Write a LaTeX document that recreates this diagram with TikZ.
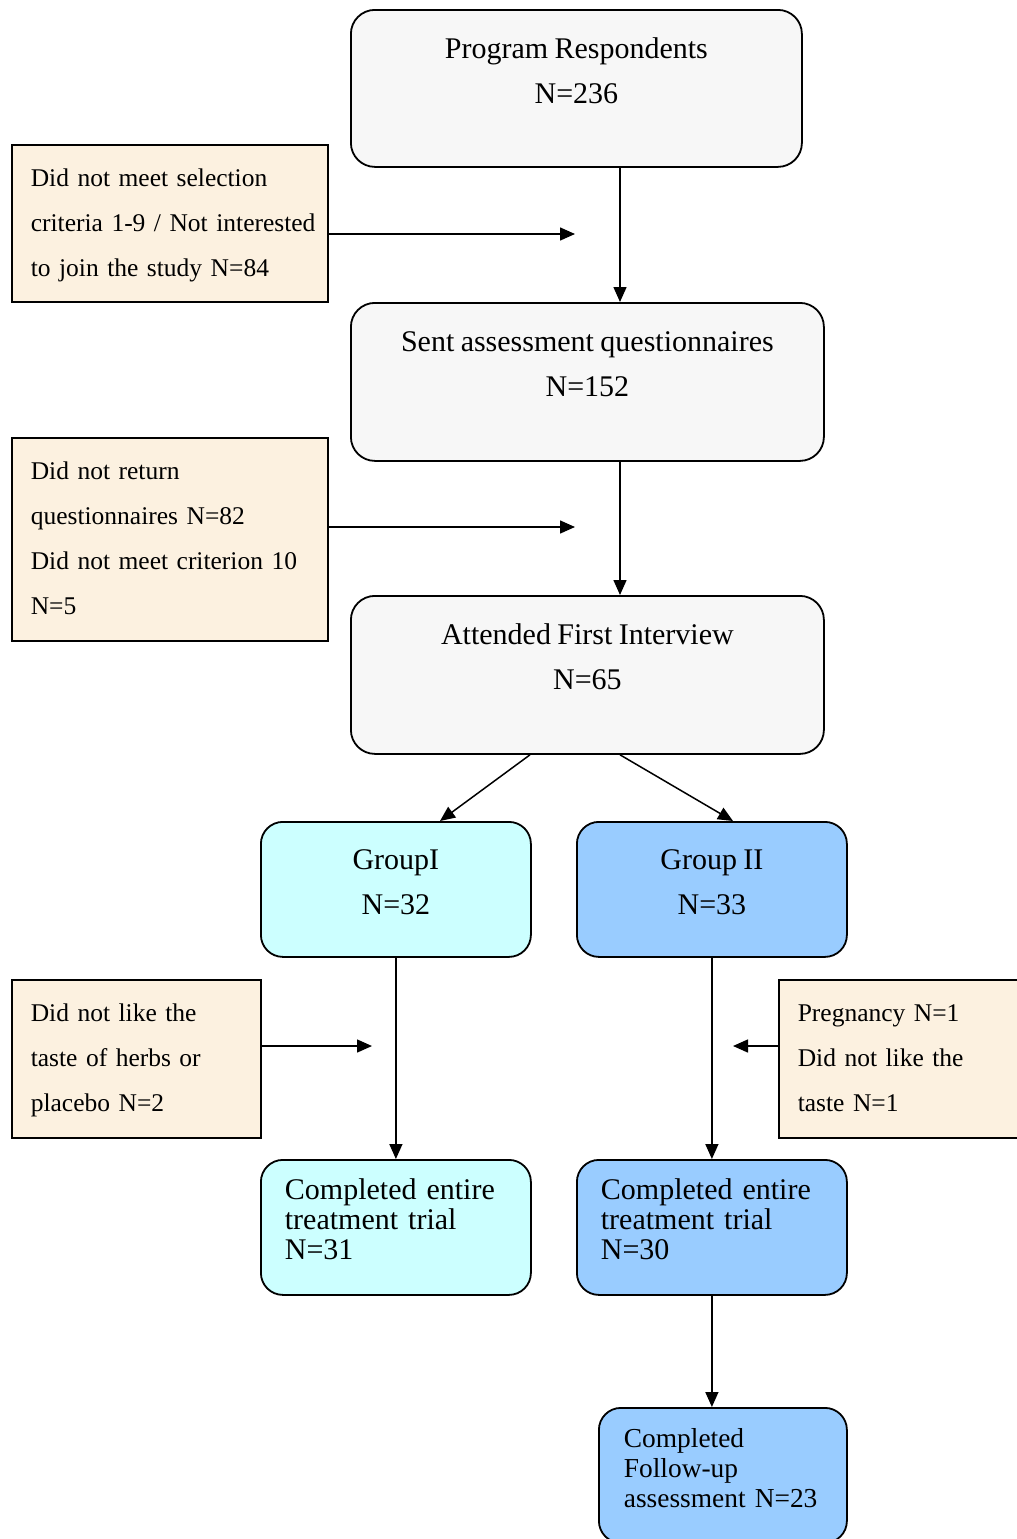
\documentclass[tikz,border=0pt]{standalone}
\usepackage{fontspec}
\setmainfont{Liberation Serif}[WordSpace=0.85]
\usetikzlibrary{arrows.meta}
\definecolor{stagegray}{HTML}{F7F7F7}
\definecolor{notebeige}{HTML}{FCF1E0}
\definecolor{groupcyan}{HTML}{CCFFFF}
\definecolor{groupblue}{HTML}{99CCFF}

\begin{document}
\begin{tikzpicture}[x=1pt,y=-1pt,
  every node/.style={anchor=north west, inner ysep=0pt},
  % centred two-line boxes: text height reaches the baseline of the last line
  stage/.style={draw, line width=1.8pt, rounded corners=24pt, fill=stagegray,
    inner xsep=0pt, align=center, font=\fontsize{30}{44.5}\selectfont,
    text height=93.5pt},
  grp/.style={draw, line width=1.8pt, rounded corners=22pt,
    inner xsep=0pt, align=center, font=\fontsize{30}{45}\selectfont,
    text height=93pt, minimum width=270pt, minimum height=135pt, text depth=42pt},
  done/.style={draw, line width=1.8pt, rounded corners=22pt,
    align=left, font=\fontsize{30}{30}\selectfont,
    text height=40pt, minimum height=135pt, text depth=95pt},
  note/.style={draw, line width=1.6pt, fill=notebeige, inner xsep=19pt,
    align=left, font=\fontsize{25.5}{45}\selectfont, text height=42pt},
  conn/.style={line width=1.5pt, -{Triangle[length=15pt,width=13pt]}}
]
\useasboundingbox (0,0) rectangle (1017,1539);
\fill[white] (0,0) rectangle (1017,1539);

% main stages
\node[stage, minimum width=451pt, minimum height=157pt, text depth=63.5pt]
  (resp) at (350,9) {Program Respondents\\N=236};
\node[stage, minimum width=473pt, minimum height=158pt, text depth=64.5pt]
  (sent) at (350,302) {Sent assessment questionnaires\\N=152};
\node[stage, minimum width=473pt, minimum height=158pt, text depth=64.5pt]
  (inter) at (350,595) {Attended First Interview\\N=65};

% groups
\node[grp, fill=groupcyan] (g1) at (260,821) {GroupI\\N=32};
\node[grp, fill=groupblue] (g2) at (576,821) {Group II\\N=33};

% completion boxes
\node[done, fill=groupcyan, inner xsep=24pt, text width=222pt]
  (c1) at (260,1159) {Completed entire\\treatment trial\\N=31};
\node[done, fill=groupblue, inner xsep=24pt, text width=222pt]
  (c2) at (576,1159) {Completed entire\\treatment trial\\N=30};
\node[done, fill=groupblue, inner xsep=25pt, text width=198pt,
  font=\fontsize{27.4}{30}\selectfont]
  (fu) at (598,1407) {Completed\\Follow-up\\\mbox{assessment N=23}};

% exclusion notes
\node[note, text width=278pt, minimum height=157pt, text depth=115pt]
  (exA) at (11,144) {Did not meet selection\\\mbox{criteria 1-9 / Not interested}\\to join the study N=84};
\node[note, text width=278pt, minimum height=203pt, text depth=161pt]
  (exB) at (11,437) {Did not return\\questionnaires N=82\\Did not meet criterion 10\\N=5};
\node[note, text width=211pt, minimum height=158pt, text depth=116pt]
  (exC) at (11,979) {Did not like the\\taste of herbs or\\placebo N=2};
\node[note, text width=211pt, minimum height=158pt, text depth=116pt]
  (exD) at (778,979) {Pregnancy N=1\\Did not like the\\taste N=1};

% free ends of the exclusion arrows
\coordinate (endA) at (575,234);
\coordinate (endB) at (575,527);
\coordinate (endC) at (372,1046);
\coordinate (endD) at (733,1046);

% flow
\draw[conn] ([xshift=270pt]resp.south west) -- ([xshift=270pt]sent.north west);
\draw[conn] ([xshift=270pt]sent.south west) -- ([xshift=270pt]inter.north west);
\draw[conn] ([xshift=180pt]inter.south west) -- ([xshift=180pt]g1.north west);
\draw[conn] ([xshift=270pt]inter.south west) -- ([xshift=157pt]g2.north west);
\draw[conn] (g1.south) -- (c1.north);
\draw[conn] (g2.south) -- (c2.north);
\draw[conn] (c2.south) -- (c2.south |- fu.north);

% exclusions
\draw[conn] (exA.east |- endA) -- (endA);
\draw[conn] (exB.east |- endB) -- (endB);
\draw[conn] (exC.east |- endC) -- (endC);
\draw[conn] (exD.west |- endD) -- (endD);
\end{tikzpicture}
\end{document}
